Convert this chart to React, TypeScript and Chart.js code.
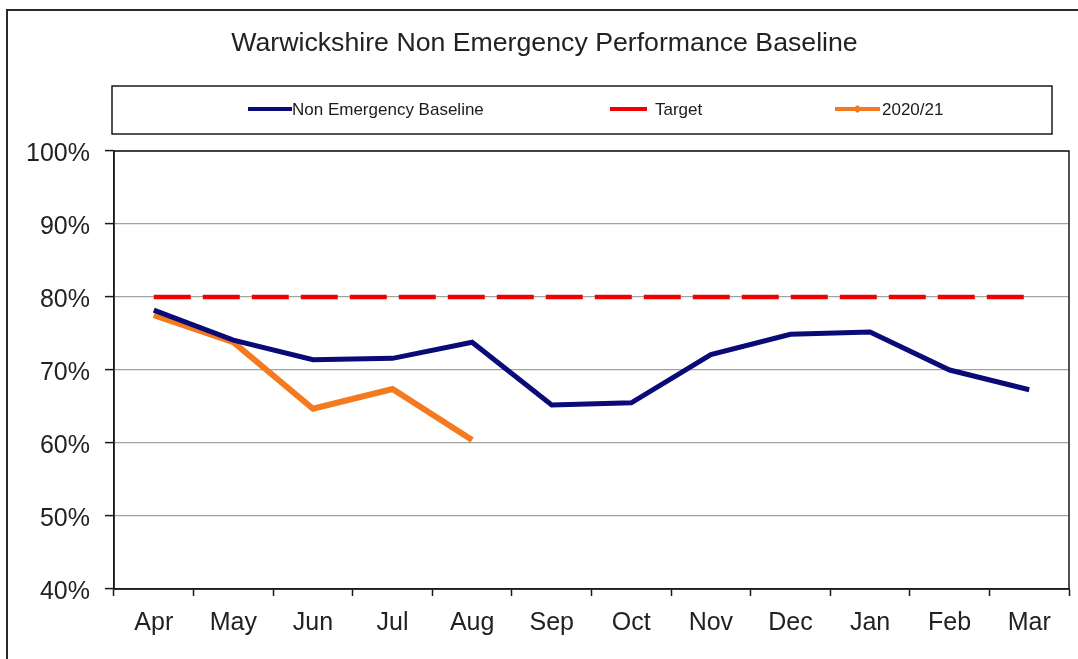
import React, { useEffect, useRef } from "react";
import { Chart, registerables } from "chart.js";

Chart.register(...registerables);

const months = ["Apr", "May", "Jun", "Jul", "Aug", "Sep", "Oct", "Nov", "Dec", "Jan", "Feb", "Mar"];
const baseline = [78.2, 74.1, 71.4, 71.6, 73.8, 65.2, 65.5, 72.1, 74.9, 75.2, 70.0, 67.3];
const target = [80, 80, 80, 80, 80, 80, 80, 80, 80, 80, 80, 80];
const year2021 = [77.5, 73.8, 64.7, 67.4, 60.4, null, null, null, null, null, null, null];
const yTicks = [40, 50, 60, 70, 80, 90, 100];

const titleText = "Warwickshire Non Emergency Performance Baseline";
const NAVY = "#0a0a78";
const RED = "#f00000";
const ORANGE = "#f57a1f";
const FONT = "'Liberation Sans', Arial, sans-serif";

const decorPlugin = {
  id: "decor",
  beforeDraw(chart: any) {
    const ctx = chart.ctx;
    ctx.save();
    ctx.fillStyle = "#ffffff";
    ctx.fillRect(0, 0, chart.width, chart.height);
    ctx.strokeStyle = "#2a2a2a";
    ctx.lineWidth = 2;
    ctx.strokeRect(7, 10, chart.width + 20, chart.height + 20);
    ctx.restore();
  },
  afterDraw(chart: any) {
    const ctx = chart.ctx;
    const a = chart.chartArea;
    ctx.save();
    // plot area frame
    ctx.strokeStyle = "#1a1a1a";
    ctx.lineWidth = 1.5;
    ctx.strokeRect(a.left, a.top, a.right - a.left, a.bottom - a.top);

    // legend box
    const bx = a.left - 2;
    const by = 86;
    const bw = a.right - 17 - bx;
    const bh = 48;
    ctx.lineWidth = 1.5;
    ctx.strokeStyle = "#1a1a1a";
    ctx.strokeRect(bx, by, bw, bh);

    const cy = by + bh / 2;
    const ds = chart.data.datasets;
    const items = [
      { x0: 248, x1: 292, tx: 292, ds: ds[0], marker: false },
      { x0: 610, x1: 647, tx: 655, ds: ds[1], marker: false },
      { x0: 835, x1: 880, tx: 882, ds: ds[2], marker: true },
    ];
    ctx.font = `17px ${FONT}`;
    ctx.textBaseline = "middle";
    ctx.textAlign = "left";
    for (const it of items) {
      ctx.strokeStyle = it.ds.borderColor;
      ctx.lineWidth = 4;
      ctx.setLineDash([]);
      ctx.beginPath();
      ctx.moveTo(it.x0, cy - 1);
      ctx.lineTo(it.x1, cy - 1);
      ctx.stroke();
      if (it.marker) {
        const mx = (it.x0 + it.x1) / 2;
        ctx.fillStyle = it.ds.borderColor;
        ctx.beginPath();
        ctx.moveTo(mx - 5, cy - 1);
        ctx.lineTo(mx, cy - 5);
        ctx.lineTo(mx + 5, cy - 1);
        ctx.lineTo(mx, cy + 3);
        ctx.closePath();
        ctx.fill();
      }
      ctx.fillStyle = "#1a1a1a";
      ctx.fillText(it.ds.label, it.tx, cy);
    }
    ctx.restore();
  },
};

export default function App() {
  const ref = useRef<HTMLCanvasElement | null>(null);

  useEffect(() => {
    if (!ref.current) return;
    const chart = new Chart(ref.current, {
      type: "line",
      data: {
        labels: months,
        datasets: [
          {
            label: "Non Emergency Baseline",
            data: baseline,
            borderColor: NAVY,
            backgroundColor: NAVY,
            borderWidth: 5,
            pointRadius: 0,
            tension: 0,
          },
          {
            label: "Target",
            data: target,
            borderColor: RED,
            backgroundColor: RED,
            borderWidth: 4.5,
            borderDash: [37, 12],
            pointRadius: 0,
            tension: 0,
          },
          {
            label: "2020/21",
            data: year2021,
            borderColor: ORANGE,
            backgroundColor: ORANGE,
            borderWidth: 6,
            pointRadius: 0,
            tension: 0,
            spanGaps: false,
          },
        ],
      },
      options: {
        animation: false,
        responsive: false,
        devicePixelRatio: 1,
        layout: { padding: { left: 20, right: 9, top: 0, bottom: 0 } },
        plugins: {
          legend: { display: false },
          tooltip: { enabled: false },
          title: {
            display: true,
            text: titleText,
            color: "#222222",
            font: { family: FONT, size: 26.7, weight: "normal", lineHeight: 1.2 },
            padding: { top: 27.5, bottom: 91.5 },
          },
        },
        scales: {
          x: {
            type: "category",
            offset: true,
            grid: {
              offset: true,
              drawOnChartArea: false,
              drawTicks: true,
              tickLength: 7,
              tickColor: "#1a1a1a",
              tickWidth: 1.5,
            },
            border: { display: true, color: "#1a1a1a", width: 1.5 },
            ticks: {
              color: "#222222",
              padding: 12,
              maxRotation: 0,
              autoSkip: false,
              font: { family: FONT, size: 25 },
            },
            afterFit(s: any) {
              s.height = 70;
            },
          },
          y: {
            min: 40,
            max: 100,
            afterBuildTicks(s: any) {
              s.ticks = yTicks.map((v) => ({ value: v }));
            },
            grid: {
              color: "#a3a3a3",
              lineWidth: 1.2,
              drawTicks: true,
              tickLength: 9,
              tickColor: "#1a1a1a",
              tickWidth: 1.5,
            },
            border: { display: true, color: "#1a1a1a", width: 1.5 },
            ticks: {
              color: "#222222",
              padding: 15,
              labelOffset: 3,
              font: { family: FONT, size: 25 },
              callback: (v: any) => `${v}%`,
            },
            afterFit(s: any) {
              s.width = 94;
            },
          },
        },
      },
      plugins: [decorPlugin],
    });
    return () => chart.destroy();
  }, []);

  return (
    <div style={{ position: "fixed", left: 0, top: 0, width: 1078, height: 659, background: "#fff" }}>
      <canvas ref={ref} width={1078} height={659} style={{ display: "block" }} />
    </div>
  );
}
